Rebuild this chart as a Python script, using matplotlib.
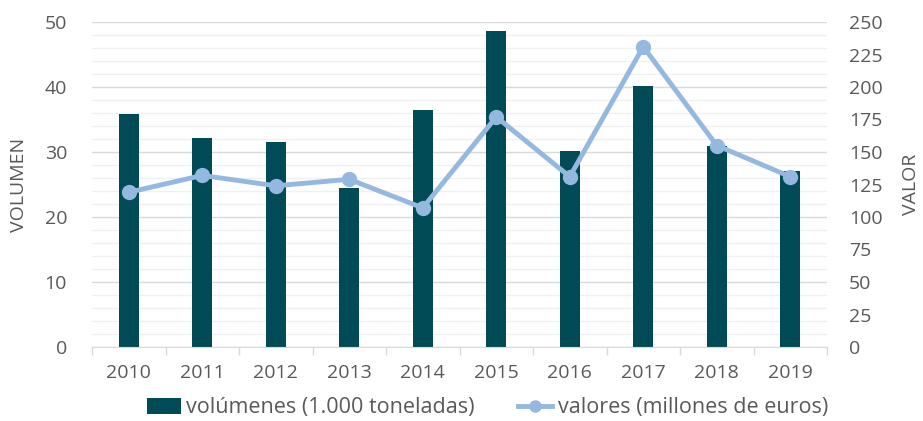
import numpy as np
import matplotlib.pyplot as plt
from matplotlib.ticker import MultipleLocator

plt.rcParams['font.family'] = ['Open Sans', 'DejaVu Sans']

years = ['2010', '2011', '2012', '2013', '2014', '2015', '2016', '2017', '2018', '2019']
volumenes = [35.8, 32.2, 31.5, 24.5, 36.5, 48.6, 30.1, 40.1, 30.9, 27.1]
valores = [119, 132, 124, 129, 107, 177, 131, 231, 155, 131]

bar_color = '#004b55'
line_color = '#95b8e0'
text_color = '#595959'
grid_major = '#d9d9d9'
grid_minor = '#f0f0f0'
fs = 14

fig = plt.figure(figsize=(9.23, 4.21), dpi=100)
ax = fig.add_axes([92 / 923, 1 - 347 / 421, 735 / 923, 325 / 421])
ax2 = ax.twinx()

x = np.arange(len(years))
ax.bar(x, volumenes, width=0.27, color=bar_color, zorder=3,
       label='volúmenes (1.000 toneladas)')
ax2.plot(x, valores, color=line_color, lw=3.5, marker='o', ms=10, zorder=4,
         label='valores (millones de euros)')

ax.set_xlim(-0.5, len(years) - 0.5)
ax.set_ylim(0, 50)
ax2.set_ylim(0, 250)
ax.yaxis.set_major_locator(MultipleLocator(10))
ax.yaxis.set_minor_locator(MultipleLocator(2))
ax2.yaxis.set_major_locator(MultipleLocator(25))

ax.grid(axis='y', which='major', color=grid_major, lw=1, zorder=0)
ax.grid(axis='y', which='minor', color=grid_minor, lw=1, zorder=0)
ax.set_axisbelow(True)

# category boundary ticks on the x axis
ax.set_xticks(x)
ax.set_xticklabels(years)
ax.set_xticks(np.arange(-0.5, len(years)), minor=True)
ax.tick_params(axis='x', which='major', length=0, pad=12, labelsize=fs, labelcolor=text_color)
ax.tick_params(axis='x', which='minor', length=6, color=grid_major, width=1)
ax.tick_params(axis='y', which='both', length=0, pad=18, labelsize=fs, labelcolor=text_color)
ax2.tick_params(axis='y', length=0, pad=16, labelsize=fs, labelcolor=text_color)

for a in (ax, ax2):
    for s in a.spines.values():
        s.set_visible(False)
ax.spines['bottom'].set_visible(True)
ax.spines['bottom'].set_color(grid_major)
ax.spines['bottom'].set_zorder(5)

ax.set_ylabel('VOLUMEN', fontsize=fs, color=text_color, labelpad=12)
ax2.set_ylabel('VALOR', fontsize=fs, color=text_color, labelpad=14)

h1, l1 = ax.get_legend_handles_labels()
h2, l2 = ax2.get_legend_handles_labels()
fig.legend(h1 + h2, l1 + l2, loc='center', bbox_to_anchor=(0.528, 1 - 408 / 421),
           ncol=2, frameon=False, fontsize=15.5, labelcolor=text_color,
           handlelength=1.6, handletextpad=0.25, columnspacing=2.0,
           markerscale=0.8)

fig.savefig('out.png', dpi=100)
